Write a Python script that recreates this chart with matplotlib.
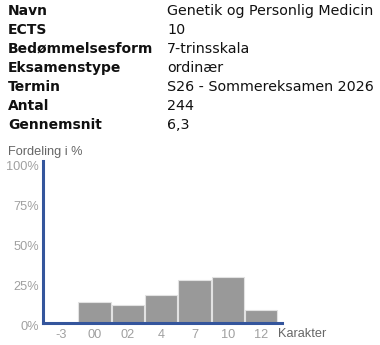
import numpy as np
import matplotlib
matplotlib.use("Agg")
import matplotlib.pyplot as plt
from matplotlib.transforms import ScaledTranslation

# info table
info_labels = ["Navn", "ECTS", "Bedømmelsesform", "Eksamenstype", "Termin", "Antal", "Gennemsnit"]
info_values = ["Genetik og Personlig Medicin", "10", "7-trinsskala", "ordinær",
               "S26 - Sommereksamen 2026", "244", "6,3"]

# grade distribution in %
grades = ["-3", "00", "02", "4", "7", "10", "12"]
percent = [0.0, 13.2, 11.2, 17.4, 26.5, 28.4, 8.3]
yticks = [0, 25, 50, 75, 100]
ytick_labels = ["0%", "25%", "50%", "75%", "100%"]

W, H = 380, 345
fig = plt.figure(figsize=(W / 100, H / 100), dpi=100)

def px(x, y):
    return x / W, 1 - y / H

for i in range(len(info_labels)):
    base = 14.7 + 19.05 * i
    fig.text(*px(8, base), info_labels[i], fontsize=10, fontweight="bold",
             family="DejaVu Sans", color="#111111", va="baseline", ha="left")
    fig.text(*px(167, base), info_values[i], fontsize=10.3,
             family="DejaVu Sans", color="#111111", va="baseline", ha="left")

# chart
left, right, top, bottom = 42.5, 281.5, 162, 323
ax = fig.add_axes([left / W, 1 - bottom / H, (right - left) / W, (bottom - top) / H])
x = np.arange(len(grades))
ax.bar(x, percent, width=0.97, color="#999999", edgecolor="#e2e2e2", linewidth=0.8, zorder=2)
ax.set_xlim(-0.56, 6.61)
ax.set_ylim(0, 100)

for s in ["top", "right"]:
    ax.spines[s].set_visible(False)
for s in ["left", "bottom"]:
    ax.spines[s].set_color("#34559c")
    ax.spines[s].set_linewidth(2.2)
    ax.spines[s].set_zorder(3)
ax.spines["left"].set_bounds(0, 100.6)

ax.set_xticks(x)
ax.set_xticklabels(grades)
ax.set_yticks(yticks)
ax.set_yticklabels(ytick_labels)
ax.tick_params(axis="both", length=0, labelsize=9.2, labelcolor="#a0a0a0")
ax.tick_params(axis="y", pad=2.5)
ax.tick_params(axis="x", pad=4)
for lbl in ax.get_yticklabels():
    lbl.set_family("Liberation Sans")
    lbl.set_transform(lbl.get_transform() + ScaledTranslation(0, -3 / 100, fig.dpi_scale_trans))
for lbl in ax.get_xticklabels():
    lbl.set_family("Liberation Sans")

fig.text(*px(7.5, 152), "Fordeling i %", fontsize=9.2, family="Liberation Sans",
         color="#666666", va="center", ha="left")
fig.text(*px(278, 334), "Karakter", fontsize=9.2, family="Liberation Sans",
         color="#666666", va="center", ha="left")

fig.savefig("out.png", dpi=100)
